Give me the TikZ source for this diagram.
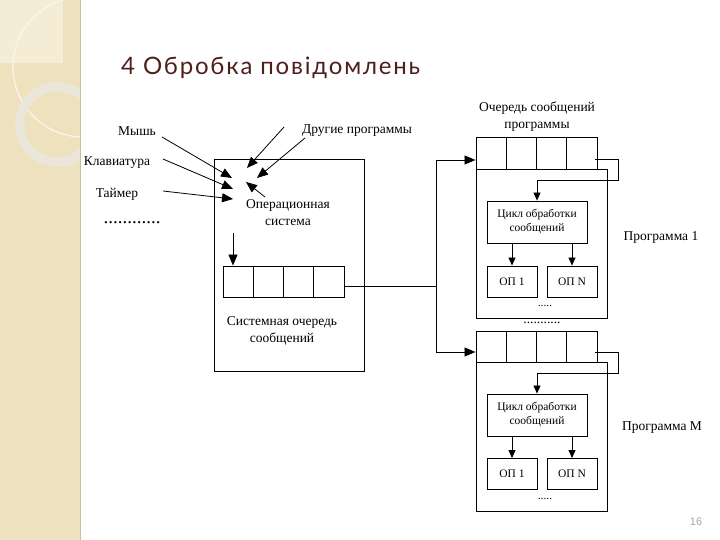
\documentclass[tikz,border=0pt]{standalone}
\usepackage{fontspec}
\setmainfont{Liberation Serif}
\newfontfamily\titlefont[LetterSpace=7.5]{Lato}
\newfontfamily\pagefont{Liberation Sans}
\usetikzlibrary{arrows.meta}
\definecolor{strip}{RGB}{238,226,190}
\definecolor{stripl}{RGB}{244,236,212}
\definecolor{ringc}{RGB}{234,230,218}
\definecolor{titlec}{RGB}{78,32,26}
\begin{document}
\begin{tikzpicture}[x=1pt,y=-1pt,
  box/.style={draw, line width=0.9pt, inner sep=0pt},
  cell/.style={box, minimum width=30.25pt, minimum height=31pt},
  lbl/.style={font=\fontsize{13.5}{17}\selectfont, align=center, inner sep=0pt},
  sml/.style={font=\fontsize{11.5}{14}\selectfont, align=center, inner sep=0pt},
  arr/.style={-{Triangle[length=11pt,width=9pt]}, line width=0.8pt},
  arrs/.style={-{Triangle[length=8pt,width=7pt]}, line width=0.8pt}]
\useasboundingbox (0,0) rectangle (720,540);
\fill[white] (0,0) rectangle (720,540);
\fill[strip] (0,0) rectangle (80,540);
\fill[stripl] (0,0) rectangle (63,63);
\begin{scope}
\clip (0,0) rectangle (80,540);
\draw[stripl!50!white, line width=1.2pt] (83,67) circle (70pt);
\draw[ringc, line width=9.5pt] (57.5,124.5) circle (37.75pt);
\end{scope}
\draw[strip!85!black, line width=0.6pt] (80,0) -- (80,540);
\node[anchor=base west, text=titlec, font=\titlefont\fontsize{24}{28}\selectfont, inner sep=0pt] (title) at (121,75) {4 Обробка повідомлень};
\node[lbl] (mouse) at (137,131) {Мышь};
\node[lbl] (keyb) at (117,163) {Клавиатура};
\node[lbl] (timer) at (117,194) {Таймер};
\node[lbl, font=\fontsize{19}{20}\selectfont, anchor=base] (more) at (132,224) {............};
\node[lbl, anchor=west] (other) at (302,131) {Другие программы};
\node[box, minimum width=150pt, minimum height=212pt] (os) at (289,265){};
\node[lbl] (ostext) at (288,213) {Операционная\\система};
\node[cell] (sq1) at (238.1,281.5){};
\node[cell] (sq2) at (268.4,281.5){};
\node[cell] (sq3) at (298.6,281.5){};
\node[cell] (sq4) at (328.9,281.5){};
\node[lbl] (sqtext) at (282,331) {Системная очередь\\сообщений};
\coordinate (ms) at (162,137);
\coordinate (mt) at (232,178);
\coordinate (ks) at (163,159);
\coordinate (kt) at (233,189);
\coordinate (ts) at (163,191);
\coordinate (tt) at (233,199);
\coordinate (os1s) at (284,127);
\coordinate (os1t) at (247,168);
\coordinate (os2s) at (305,138);
\coordinate (os2t) at (257,178);
\coordinate (os3s) at (265,197);
\coordinate (os3t) at (246,182);
\coordinate (dn) at (233,233);
\draw[arr](ms) -- (mt);
\draw[arr](ks) -- (kt);
\draw[arr](ts) -- (tt);
\draw[arr](os1s) -- (os1t);
\draw[arr](os2s) -- (os2t);
\draw[arr](os3s) -- (os3t);
\draw[arr](dn) -- (dn |- sq1.north);
\node[lbl] (qtext) at (537,117) {Очередь сообщений\\программы};
\node[box, minimum width=131pt, minimum height=149pt] (proga) at (541.5,243.5){};
\node[cell, minimum height=32pt] (pa1) at (491.1,153){};
\node[cell, minimum height=32pt] (pa2) at (521.4,153){};
\node[cell, minimum height=32pt] (pa3) at (551.6,153){};
\node[cell, minimum height=32pt] (pa4) at (581.9,153){};
\node[box, sml, minimum width=100pt, minimum height=42pt] (cyca) at (537,222){Цикл обработки\\сообщений};
\node[box, sml, minimum width=50pt, minimum height=31pt] (opa1) at (512,281.5){ОП 1};
\node[box, sml, minimum width=50pt, minimum height=31pt] (opaN) at (572,281.5){ОП N};
\node[sml] (dotsa) at (545,306) {.....};
\node[lbl] (proglbla) at (661,237) {Программа 1};
\node[lbl] (dotsab) at (542,323) {...........};
\node[box, minimum width=131pt, minimum height=149pt] (progb) at (541.5,436.5){};
\node[cell] (pb1) at (491.1,346.5){};
\node[cell] (pb2) at (521.4,346.5){};
\node[cell] (pb3) at (551.6,346.5){};
\node[cell] (pb4) at (581.9,346.5){};
\node[box, sml, minimum width=100pt, minimum height=42pt] (cycb) at (537,415){Цикл обработки\\сообщений};
\node[box, sml, minimum width=50pt, minimum height=31pt] (opb1) at (512,474){ОП 1};
\node[box, sml, minimum width=50pt, minimum height=31pt] (opbN) at (572,474){ОП N};
\node[sml] (dotsb) at (545,499) {.....};
\node[lbl] (proglblb) at (662,428) {Программа М};
\coordinate (split) at (436,286);
\draw[line width=0.9pt]([yshift=-4.5pt]sq4.east) -- (split);
\draw[arr](split) |- ([yshift=-7pt]pa1.west);
\draw[arr](split) |- ([yshift=-5.5pt]pb1.west);
\draw[arrs]([xshift=-2pt,yshift=-6pt]pa4.east) -- ++(23,0) -- ++(0,21) -| (cyca.north);
\draw[arrs]([xshift=-2pt,yshift=-5.5pt]pb4.east) -- ++(23,0) -- ++(0,21) -| (cycb.north);
\draw[arrs](cyca.south -| opa1) -- (opa1);
\draw[arrs](cyca.south -| opaN) -- (opaN);
\draw[arrs](cycb.south -| opb1) -- (opb1);
\draw[arrs](cycb.south -| opbN) -- (opbN);
\node[text=gray!70, font=\pagefont\fontsize{11}{13}\selectfont] (pnum) at (696,522) {16};
\end{tikzpicture}
\end{document}
